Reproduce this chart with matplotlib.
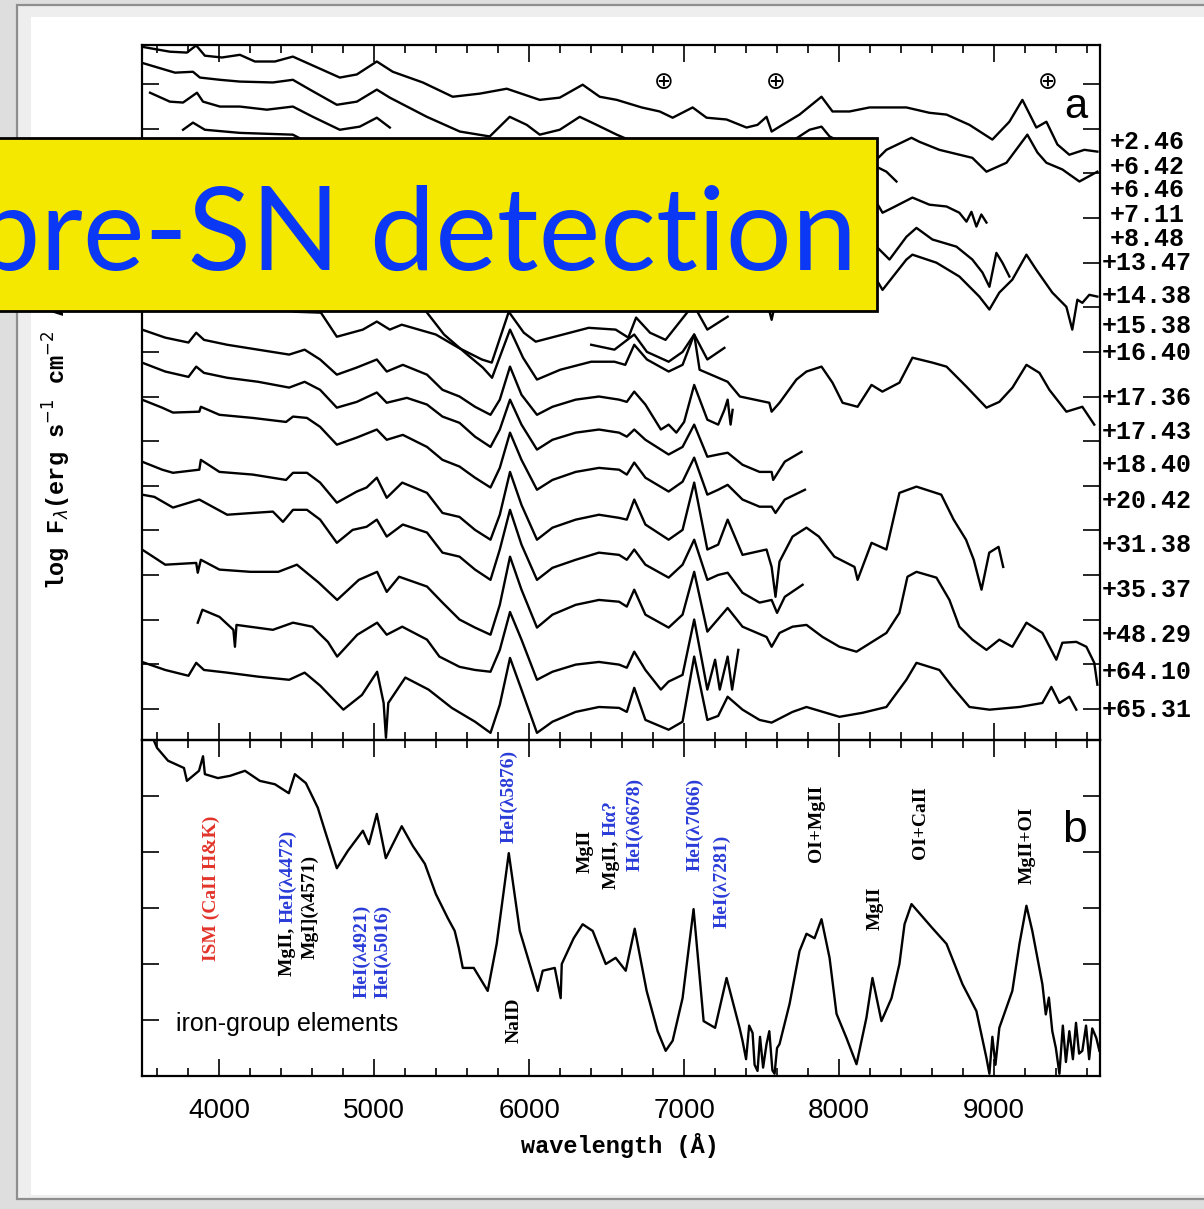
import matplotlib.pyplot as plt
from matplotlib.patches import Rectangle
from matplotlib.ticker import MultipleLocator
from matplotlib import transforms

# ---------------- panel a: spectra (wavelength in A, log flux + offset) ----------------
wl_246 = [3500, 3680, 3790, 3850, 3906, 4016, 4132, 4229, 4358, 4474, 4603, 4777, 4887, 5016, 5119, 5313,
          5506, 5681, 5855, 6068, 6197, 6345, 6455, 6565, 6726, 6842, 6926, 7055, 7145, 7274, 7403, 7474,
          7532, 7565, 7616, 7745, 7887, 7958, 8068, 8197, 8435, 8584, 8694, 8842, 8990, 9100, 9184, 9274,
          9339, 9410, 9487, 9584, 9668]
fl_246 = [14.84, 14.73, 14.71, 14.87, 14.64, 14.60, 14.66, 14.51, 14.51, 14.62, 14.42, 14.15, 14.22, 14.51,
          14.28, 14.04, 13.72, 13.79, 13.90, 13.65, 13.70, 13.99, 13.72, 13.65, 13.48, 13.39, 13.25, 13.48,
          13.25, 13.21, 13.03, 13.09, 13.27, 12.94, 13.05, 13.32, 13.72, 13.39, 13.39, 13.48, 13.48, 13.36,
          13.32, 13.09, 12.76, 13.16, 13.65, 13.03, 13.16, 12.65, 12.42, 12.53, 12.49]

wl_642 = [3500, 3713, 3829, 3874, 4003, 4132, 4345, 4474, 4584, 4758, 4887, 5016, 5100, 5339, 5552, 5745,
          5874, 5984, 6068, 6197, 6326, 6435, 6565, 6713, 7055, 7358, 7616, 7713, 7810, 7887, 7939, 8242,
          8306, 8468, 8519, 8648, 8861, 8952, 9081, 9216, 9281, 9339, 9442, 9552, 9668]
fl_642 = [14.48, 14.26, 14.28, 14.15, 14.10, 14.06, 14.04, 14.10, 13.88, 13.54, 13.61, 13.88, 13.70, 13.27,
          12.94, 12.83, 13.27, 13.09, 12.87, 12.98, 13.27, 13.09, 12.87, 12.65, 12.71, 12.53, 12.58, 12.76,
          12.98, 13.05, 12.83, 12.31, 12.53, 12.80, 12.71, 12.53, 12.35, 12.04, 12.24, 12.87, 12.47, 12.24,
          12.09, 11.82, 12.04]

wl_646 = [3552, 3680, 3765, 3855, 3894, 4003, 4132, 4306, 4474, 4603, 4777, 4906, 5016, 5100]
fl_646 = [13.81, 13.61, 13.59, 13.81, 13.61, 13.50, 13.50, 13.43, 13.50, 13.27, 12.98, 13.05, 13.25, 13.03]

wl_711 = [3765, 3829, 3906, 4132, 4474, 4780, 5016, 5490, 5874, 6068, 6678, 7065, 7490, 7887, 8242, 8306, 8371]
fl_711 = [12.98, 13.14, 12.98, 12.91, 12.87, 12.31, 12.53, 11.75, 12.53, 11.64, 11.64, 11.86, 11.41, 12.20,
          12.15, 12.04, 11.82]

wl_848 = [8100, 8242, 8281, 8345, 8474, 8584, 8694, 8777, 8823, 8855, 8887, 8919, 8952]
fl_848 = [11.19, 11.35, 11.12, 11.23, 11.46, 11.30, 11.26, 11.12, 10.92, 11.14, 10.81, 11.08, 10.90]

wl_1347 = [8100, 8242, 8326, 8435, 8500, 8603, 8758, 8861, 8926, 8971, 9016, 9055, 9100]
fl_1347 = [10.18, 10.36, 10.07, 10.58, 10.78, 10.52, 10.36, 10.07, 9.78, 9.46, 10.22, 10.00, 9.69]

wl_1438 = [7400, 7532, 7565, 7590, 7700, 8000, 8242, 8281, 8358, 8435, 8474, 8629, 8777, 8906, 8971, 9035,
           9119, 9210, 9274, 9377, 9468, 9506, 9539, 9571, 9616, 9668]
fl_1438 = [9.28, 9.17, 8.72, 9.13, 9.28, 9.39, 9.62, 9.39, 9.73, 10.07, 10.18, 10.00, 9.69, 9.24, 8.95, 9.33,
           9.62, 10.18, 9.84, 9.33, 9.01, 8.50, 9.17, 9.10, 9.28, 9.24]

wl_1538 = [4000, 4487, 4655, 4758, 4926, 5016, 5100, 5177, 5397, 5545, 5694, 5758, 5868, 5965, 6042, 6384,
           6558, 6640, 6690, 6780, 6880, 7060, 7150, 7281]
fl_1538 = [9.39, 8.90, 8.88, 8.34, 8.50, 8.68, 8.50, 8.61, 8.39, 8.09, 7.83, 7.76, 8.90, 8.43, 8.23, 8.54,
           8.50, 8.32, 8.77, 8.43, 8.27, 9.06, 8.50, 8.79]

wl_1640 = [5300, 5450, 5600, 5700, 5760, 5876, 5960, 6050, 6200, 6400, 6550, 6620, 6678, 6760, 6900, 6990,
           7065, 7150, 7260]
fl_1640 = [9.06, 8.39, 7.94, 7.65, 7.42, 8.50, 7.87, 7.38, 7.60, 7.78, 7.78, 7.71, 8.16, 7.83, 7.56, 7.71,
           8.39, 7.83, 8.09]

wl_1736 = [6400, 6550, 6678, 6760, 6900, 6990, 7065, 7100, 7281, 7360, 7550, 7565, 7616, 7725, 7790, 7887,
           7958, 8023, 8120, 8210, 8280, 8390, 8474, 8603, 8694, 8823, 8952, 9035, 9120, 9210, 9294, 9358,
           9468, 9571, 9648]
fl_1736 = [8.16, 8.05, 8.39, 8.00, 7.78, 8.00, 8.39, 7.60, 7.33, 7.00, 6.86, 6.66, 6.86, 7.38, 7.56, 7.67,
           7.31, 6.86, 6.77, 7.26, 7.11, 7.31, 7.87, 7.76, 7.67, 7.22, 6.75, 6.88, 7.20, 7.71, 7.53, 7.15,
           6.66, 6.77, 6.37]

wl_1743 = [3500, 3650, 3800, 3850, 3900, 4050, 4250, 4450, 4550, 4650, 4758, 4887, 5016, 5080, 5184, 5340,
           5440, 5550, 5650, 5750, 5810, 5876, 5950, 6050, 6150, 6300, 6450, 6580, 6630, 6678, 6750, 6850,
           6900, 6950, 7000, 7065, 7150, 7220, 7260, 7281, 7300, 7313]
fl_1743 = [8.50, 8.32, 8.21, 8.43, 8.27, 8.16, 8.05, 7.94, 8.05, 7.83, 7.49, 7.65, 7.83, 7.56, 7.71, 7.49,
           7.15, 7.00, 6.77, 6.59, 6.93, 7.67, 7.04, 6.59, 6.77, 6.93, 7.00, 6.93, 6.88, 7.11, 6.82, 6.26,
           6.37, 6.19, 6.43, 7.26, 6.48, 6.37, 6.70, 6.93, 6.37, 6.70]

wl_1840 = [3500, 3650, 3800, 3850, 3900, 4050, 4250, 4450, 4550, 4650, 4758, 4887, 5016, 5080, 5210, 5340,
           5440, 5550, 5650, 5750, 5810, 5876, 5950, 6050, 6150, 6300, 6450, 6580, 6630, 6678, 6750, 6900,
           6990, 7065, 7150, 7220, 7281, 7377, 7487, 7565, 7575, 7650, 7758]
fl_1840 = [7.76, 7.56, 7.44, 7.67, 7.53, 7.42, 7.33, 7.20, 7.33, 7.15, 6.75, 6.88, 7.09, 6.86, 6.97, 6.82,
           6.55, 6.41, 6.10, 5.87, 6.26, 6.93, 6.37, 5.81, 6.03, 6.19, 6.26, 6.19, 6.10, 6.26, 6.03, 5.70,
           5.87, 6.37, 5.65, 5.70, 5.74, 5.47, 5.31, 5.31, 5.13, 5.54, 5.76]

wl_2042 = [3500, 3630, 3700, 3870, 3880, 4000, 4215, 4430, 4475, 4565, 4650, 4758, 4887, 5016, 5080, 5184,
           5340, 5440, 5550, 5650, 5750, 5810, 5876, 5950, 6050, 6150, 6300, 6450, 6580, 6630, 6678, 6750,
           6900, 6990, 7065, 7150, 7220, 7281, 7377, 7487, 7565, 7590, 7650, 7780]
fl_2042 = [6.93, 6.75, 6.64, 6.66, 6.77, 6.59, 6.52, 6.43, 6.55, 6.52, 6.32, 5.92, 6.08, 6.26, 6.03, 6.14,
           5.87, 5.58, 5.43, 5.18, 4.96, 5.40, 6.19, 5.58, 4.91, 5.13, 5.31, 5.40, 5.36, 5.25, 5.52, 5.18,
           4.87, 5.09, 5.63, 4.80, 4.91, 5.02, 4.69, 4.53, 4.53, 4.39, 4.69, 4.91]

wl_3138 = [3500, 3630, 3700, 3870, 3880, 4000, 4215, 4430, 4475, 4565, 4650, 4758, 4887, 4950, 5016, 5080,
           5180, 5340, 5440, 5550, 5650, 5750, 5810, 5876, 5950, 6050, 6150, 6300, 6450, 6580, 6630, 6678,
           6750, 6900, 6990, 7065, 7150, 7220, 7281, 7377, 7532, 7565, 7590, 7616, 7700, 7790, 7870, 7970,
           8100, 8120, 8210, 8306, 8390, 8500, 8660, 8740, 8820, 8870, 8920, 8970, 9030, 9060]
fl_3138 = [5.54, 5.36, 5.29, 5.36, 5.58, 5.31, 5.25, 5.13, 5.29, 5.29, 5.07, 4.62, 4.87, 4.96, 5.18, 4.73,
           5.07, 4.84, 4.39, 4.30, 4.01, 3.79, 4.35, 5.31, 4.57, 3.79, 4.06, 4.24, 4.35, 4.28, 4.24, 4.69,
           4.13, 3.79, 4.01, 5.07, 3.57, 3.68, 4.24, 3.45, 3.57, 3.18, 2.51, 3.30, 3.86, 4.06, 3.86, 3.41,
           3.18, 2.89, 3.72, 3.57, 4.84, 4.98, 4.80, 4.24, 3.79, 3.34, 2.67, 3.50, 3.63, 3.18]

wl_3537 = [3500, 3580, 3700, 3870, 4050, 4215, 4345, 4410, 4475, 4565, 4650, 4758, 4860, 4950, 5016, 5080,
           5184, 5340, 5440, 5550, 5650, 5750, 5810, 5876, 5950, 6050, 6150, 6300, 6450, 6580, 6630, 6678,
           6750, 6900, 6990, 7065, 7150, 7220, 7281, 7377, 7487, 7565, 7600, 7650, 7765]
fl_3537 = [4.80, 4.75, 4.51, 4.69, 4.35, 4.39, 4.42, 4.19, 4.46, 4.46, 4.24, 3.72, 4.01, 4.08, 4.24, 3.86,
           4.13, 3.95, 3.50, 3.41, 3.12, 2.89, 3.57, 4.46, 3.68, 2.89, 3.16, 3.34, 3.50, 3.45, 3.34, 3.57,
           3.23, 2.94, 3.23, 3.79, 2.89, 3.00, 3.05, 2.60, 2.38, 2.44, 2.15, 2.51, 2.78]

wl_4829 = [3500, 3580, 3650, 3850, 3860, 3880, 4000, 4200, 4380, 4500, 4640, 4760, 4900, 5018, 5080, 5160,
           5340, 5440, 5550, 5650, 5750, 5810, 5876, 5950, 6050, 6150, 6300, 6450, 6580, 6630, 6678, 6750,
           6900, 6990, 7065, 7150, 7281, 7377, 7532, 7565, 7616, 7700, 7790, 7894, 8003, 8113, 8306, 8390,
           8442, 8500, 8629, 8713, 8777, 8861, 8952, 9035, 9119, 9210, 9313, 9403, 9442, 9532, 9597, 9648, 9668]
fl_4829 = [3.57, 3.39, 3.23, 3.27, 3.05, 3.34, 3.12, 3.07, 3.07, 3.23, 2.83, 2.44, 2.89, 3.07, 2.62, 2.96,
           2.74, 2.38, 2.00, 1.82, 1.66, 2.33, 3.41, 2.67, 1.82, 2.11, 2.33, 2.44, 2.40, 2.29, 2.67, 2.11,
           1.82, 2.11, 3.07, 1.73, 2.26, 1.84, 1.61, 1.39, 1.70, 1.84, 1.88, 1.61, 1.39, 1.28, 1.70, 2.15,
           2.96, 3.07, 2.94, 2.44, 1.84, 1.55, 1.32, 1.55, 1.39, 1.93, 1.70, 1.10, 1.48, 1.50, 1.39, 1.03, 0.54]

wl_6410 = [3860, 3890, 4000, 4090, 4100, 4110, 4345, 4475, 4600, 4700, 4760, 4890, 5018, 5080, 5180, 5340,
           5420, 5550, 5650, 5750, 5810, 5876, 5950, 6050, 6150, 6300, 6450, 6580, 6630, 6678, 6750, 6850,
           6900, 6990, 7065, 7120, 7150, 7200, 7230, 7281, 7310, 7350]
fl_6410 = [1.93, 2.22, 2.06, 1.77, 1.39, 1.88, 1.77, 1.93, 1.84, 1.50, 1.17, 1.66, 1.93, 1.66, 1.84, 1.55,
           1.17, 0.94, 0.87, 0.83, 1.32, 2.17, 1.55, 0.65, 0.83, 0.99, 1.05, 0.99, 0.92, 1.28, 0.87, 0.43,
           0.61, 0.76, 2.00, 0.99, 0.43, 1.10, 0.43, 1.17, 0.43, 1.32]

wl_6531 = [3500, 3650, 3800, 3850, 3900, 4050, 4250, 4450, 4550, 4650, 4800, 4920, 5018, 5060, 5075, 5090,
           5200, 5350, 5500, 5650, 5750, 5810, 5876, 5950, 6050, 6150, 6300, 6450, 6580, 6630, 6678, 6750,
           6900, 6990, 7065, 7150, 7220, 7281, 7377, 7487, 7565, 7700, 7790, 8003, 8152, 8306, 8435, 8500,
           8648, 8732, 8842, 8971, 9165, 9313, 9371, 9423, 9487, 9532]
fl_6531 = [1.05, 0.87, 0.74, 1.03, 0.87, 0.81, 0.72, 0.65, 0.81, 0.52, -0.02, 0.31, 0.83, 0.13, -0.65, 0.13,
           0.70, 0.43, 0.02, -0.29, -0.54, 0.09, 1.14, 0.43, -0.54, -0.29, -0.07, 0.04, 0.02, -0.07, 0.47, -0.25,
           -0.47, -0.29, 1.17, -0.25, -0.16, 0.27, -0.02, -0.25, -0.31, -0.07, 0.04, -0.18, -0.09, 0.04, 0.65,
           1.03, 0.87, 0.49, 0.04, -0.02, 0.04, 0.13, 0.49, 0.13, 0.27, -0.02]

spectra_a = [(wl_246, fl_246), (wl_642, fl_642), (wl_646, fl_646), (wl_711, fl_711), (wl_848, fl_848),
             (wl_1347, fl_1347), (wl_1438, fl_1438), (wl_1538, fl_1538), (wl_1640, fl_1640),
             (wl_1736, fl_1736), (wl_1743, fl_1743), (wl_1840, fl_1840), (wl_2042, fl_2042),
             (wl_3138, fl_3138), (wl_3537, fl_3537), (wl_4829, fl_4829), (wl_6410, fl_6410),
             (wl_6531, fl_6531)]

epochs = ['+2.46', '+6.42', '+6.46', '+7.11', '+8.48', '+13.47', '+14.38', '+15.38', '+16.40',
          '+17.36', '+17.43', '+18.40', '+20.42', '+31.38', '+35.37', '+48.29', '+64.10', '+65.31']
epoch_y = [12.71, 12.15, 11.64, 11.08, 10.54, 10.00, 9.26, 8.59, 7.98, 6.97, 6.21, 5.47, 4.66, 3.68,
           2.67, 1.66, 0.83, -0.02]

telluric_wl = [6870, 7590, 9345]

# ---------------- panel b: late spectrum ----------------
wl_b = [3560, 3597, 3668, 3771, 3790, 3868, 3894, 3906, 3990, 4068, 4165, 4261, 4358, 4448, 4487, 4558,
        4635, 4681, 4758, 4829, 4926, 4965, 5016, 5074, 5177, 5248, 5326, 5397, 5474, 5519, 5545, 5571,
        5642, 5732, 5790, 5868, 5939, 6055, 6087, 6165, 6203, 6210, 6287, 6345, 6410, 6494, 6558, 6623,
        6681, 6758, 6829, 6881, 6926, 6990, 7061, 7126, 7200, 7274, 7358, 7377, 7400, 7420, 7442, 7455,
        7474, 7490, 7510, 7532, 7550, 7570, 7584, 7600,
        7616, 7681, 7745, 7790, 7842, 7887, 7939, 7984, 8048, 8113, 8177, 8216, 8274, 8339, 8390, 8423,
        8468, 8603, 8694, 8797, 8887, 8952, 8971, 8990, 9010, 9035, 9119, 9165, 9210, 9248, 9313, 9335,
        9355, 9377, 9400, 9423, 9445, 9465, 9487, 9510, 9530, 9550, 9571, 9595, 9615, 9635, 9661, 9681]
fl_b = [6.10, 5.86, 5.63, 5.50, 5.27, 5.45, 5.71, 5.39, 5.32, 5.36, 5.45, 5.27, 5.21, 5.05, 5.39, 5.23,
        4.79, 4.38, 3.71, 4.02, 4.38, 4.14, 4.68, 3.89, 4.46, 4.11, 3.79, 3.25, 2.82, 2.59, 2.29, 1.93,
        1.93, 1.52, 2.36, 3.98, 2.59, 1.52, 1.88, 1.93, 1.39, 2.00, 2.46, 2.71, 2.59, 2.00, 2.11, 1.88,
        2.63, 1.52, 0.80, 0.45, 0.63, 1.39, 2.98, 0.98, 0.86, 1.75, 0.86, 0.63, 0.30, 0.90, 0.77, 0.20,
        0.09, 0.70, 0.15, 0.57, 0.80, 0.10, 0.04, 0.50,
        0.57, 1.29, 2.23, 2.54, 2.46, 2.80, 2.11, 1.11, 0.68, 0.21, 1.04, 1.75, 0.98, 1.39, 2.00, 2.71,
        3.07, 2.64, 2.36, 1.64, 1.16, 0.32, 0.04, 0.70, 0.20, 0.86, 1.52, 2.36, 3.04, 2.59, 1.64, 1.10,
        1.40, 0.80, 0.50, 0.04, 0.90, 0.25, 0.80, 0.30, 0.95, 0.40, 0.45, 0.90, 0.30, 0.85, 0.68, 0.45]

BLUE = '#2a3cd8'
RED = '#e2342a'
# line identifications: (wavelength, y, [(text, colour), ...])
line_ids = [
    (3945, 3.36, [('ISM (CaII H&K)', RED)]),
    (4442, 3.09, [('MgII, ', 'black'), ('HeI(λ4472)', BLUE)]),
    (4584, 3.02, [('MgI](λ4571)', 'black')]),
    (4919, 2.23, [('HeI(λ4921)', BLUE)]),
    (5055, 2.23, [('HeI(λ5016)', BLUE)]),
    (5868, 5.00, [('HeI(λ5876)', BLUE)]),
    (5900, 1.00, [('NaID', 'black')]),
    (6358, 4.02, [('MgII', 'black')]),
    (6532, 4.14, [('MgII, ', 'black'), ('Hα?', BLUE)]),
    (6681, 4.50, [('HeI(λ6678)', BLUE)]),
    (7068, 4.50, [('HeI(λ7066)', BLUE)]),
    (7242, 3.48, [('HeI(λ7281)', BLUE)]),
    (7855, 4.52, [('OI+MgII', 'black')]),
    (8235, 3.00, [('MgII', 'black')]),
    (8523, 4.52, [('OI+CaII', 'black')]),
    (9216, 4.11, [('MgII+OI', 'black')]),
]

W, H = 1204, 1209


def fx(px):
    return px / W


def fy(py):
    return 1 - py / H


fig = plt.figure(figsize=(W / 100, H / 100), dpi=100)
fig.patch.set_facecolor('#dedede')

# slide frame
fig.add_artist(Rectangle((fx(17), fy(1199)), 1.0, fy(5) - fy(1199), transform=fig.transFigure,
                         facecolor='#eeeeee', edgecolor='#8e8e8e', lw=1.6, zorder=-5))
fig.add_artist(Rectangle((fx(31), fy(1195)), 1.0, fy(17) - fy(1195), transform=fig.transFigure,
                         facecolor='white', edgecolor='none', zorder=-4))

ax_a = fig.add_axes([fx(142), fy(740), fx(1100) - fx(142), fy(45) - fy(740)])
ax_b = fig.add_axes([fx(142), fy(1076), fx(1100) - fx(142), fy(740) - fy(1076)])

for ax in (ax_a, ax_b):
    ax.set_xlim(3500, 9685)
    ax.xaxis.set_major_locator(MultipleLocator(1000))
    ax.xaxis.set_minor_locator(MultipleLocator(200))
    ax.yaxis.set_major_locator(MultipleLocator(1))
    ax.tick_params(which='both', direction='in', top=True, bottom=True, left=True, right=True,
                   width=1.2, labelleft=False)
    ax.tick_params(which='major', length=12)
    ax.tick_params(which='minor', length=6)
    for s in ax.spines.values():
        s.set_linewidth(1.6)
    ax.set_facecolor('none')

ax_a.set_ylim(-0.70, 14.88)
ax_a.tick_params(labelbottom=False)
ax_b.set_ylim(0, 6)
ax_b.tick_params(axis='x', labelsize=20, pad=16)
for lab in ax_b.get_xticklabels():
    lab.set_family('Liberation Sans')

for wl, fl in spectra_a:
    ax_a.plot(wl, fl, color='black', lw=1.7)
ax_b.plot(wl_b, fl_b, color='black', lw=1.7)

trans_lab = transforms.blended_transform_factory(fig.transFigure, ax_a.transData)
for ep, yv in zip(epochs, epoch_y):
    ax_a.text(fx(1147), yv, ep, transform=trans_lab, ha='center', va='center', fontsize=18,
              family='Liberation Mono', weight='bold', clip_on=False)

for wl in telluric_wl:
    ax_a.text(wl, 14.06, '⊕', ha='center', va='center', fontsize=17, family='DejaVu Sans')

ax_a.text(9532, 13.48, 'a', ha='center', va='center', fontsize=30, family='Liberation Sans')
ax_b.text(9519, 4.38, 'b', ha='center', va='center', fontsize=32, family='Liberation Sans')
ax_b.text(3719, 0.93, 'iron-group elements', ha='left', va='center', fontsize=18, family='Liberation Sans')

renderer = fig.canvas.get_renderer()
for wl, yv, pieces in line_ids:
    # measure whole label to centre it, then stack coloured pieces bottom-to-top
    full = ax_b.text(wl, yv, ''.join(p[0] for p in pieces), rotation=90, ha='center', va='center',
                     fontsize=14, family='Liberation Serif', weight='bold')
    h = full.get_window_extent(renderer).height
    full.remove()
    trans = transforms.offset_copy(ax_b.transData, fig=fig, y=-h / 2, units='dots')
    for s, c in pieces:
        t = ax_b.text(wl, yv, s, rotation=90, ha='center', va='bottom', transform=trans, color=c,
                      fontsize=14, family='Liberation Serif', weight='bold')
        dh = t.get_window_extent(renderer).height
        trans = transforms.offset_copy(trans, fig=fig, y=dh, units='dots')

fig.text(fx(620), fy(1145), 'wavelength (Å)', ha='center', va='center', fontsize=17,
         family='Liberation Mono', weight='bold')
fig.text(fx(57), fy(590), r'log F$_\lambda$(erg s$^{-1}$ cm$^{-2}$ Å$^{-1}$)', rotation=90, ha='center',
         va='bottom', fontsize=17, family='Liberation Mono', weight='bold')

# yellow banner on top of the slide
fig.add_artist(Rectangle((fx(-10), fy(311)), fx(887), fy(138) - fy(311), transform=fig.transFigure,
                         facecolor='#f4e800', edgecolor='black', lw=2, zorder=20))
fig.text(fx(857), fy(270), 'pre-SN detection', ha='right', va='baseline', fontsize=84,
         family='Lato', color='#0b38f5', zorder=21)

fig.savefig('out.png', dpi=100)
